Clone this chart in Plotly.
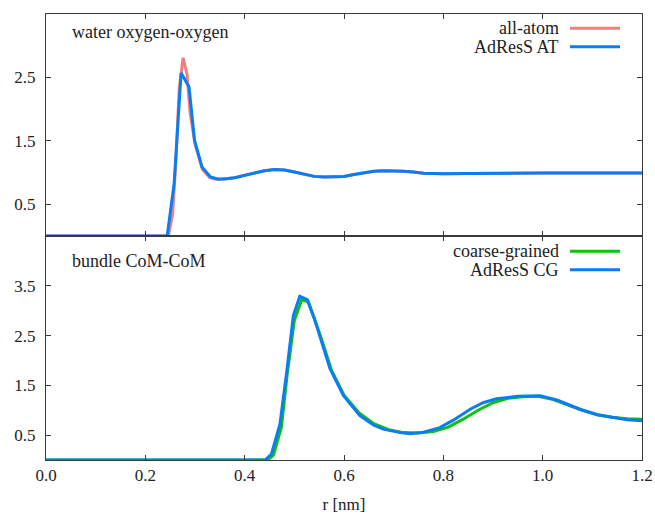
import plotly.graph_objects as go
from plotly.subplots import make_subplots

# ---- data: water oxygen-oxygen RDF ----
r_aa = [0.0, 0.240, 0.247, 0.255, 0.262, 0.268, 0.276, 0.284, 0.290, 0.300, 0.315, 0.330, 0.345,
        0.36, 0.38, 0.40, 0.42, 0.44, 0.46, 0.48, 0.50, 0.52, 0.54, 0.56, 0.58, 0.60, 0.62,
        0.64, 0.66, 0.68, 0.70, 0.72, 0.74, 0.76, 0.78, 0.80, 0.85, 0.90, 0.95, 1.0, 1.1, 1.2]
g_aa = [0.0, 0.0, 0.02, 0.35, 1.25, 2.30, 2.81, 2.55, 1.95, 1.45, 1.05, 0.92, 0.89,
        0.90, 0.92, 0.96, 1.00, 1.03, 1.05, 1.04, 1.01, 0.97, 0.94, 0.93, 0.93, 0.94, 0.97,
        1.00, 1.02, 1.03, 1.03, 1.02, 1.01, 0.99, 0.985, 0.98, 0.985, 0.99, 0.995, 0.995, 0.995, 0.995]

r_at = [0.0, 0.244, 0.258, 0.272, 0.288, 0.299, 0.314, 0.331, 0.346,
        0.36, 0.38, 0.40, 0.42, 0.44, 0.46, 0.48, 0.50, 0.52, 0.54, 0.56, 0.58, 0.60, 0.62,
        0.64, 0.66, 0.68, 0.70, 0.72, 0.74, 0.76, 0.78, 0.80, 0.85, 0.90, 0.95, 1.0, 1.1, 1.2]
g_at = [0.0, 0.0, 0.83, 2.57, 2.35, 1.51, 1.09, 0.93, 0.90,
        0.90, 0.92, 0.96, 1.00, 1.03, 1.05, 1.04, 1.01, 0.97, 0.94, 0.93, 0.93, 0.94, 0.97,
        1.00, 1.02, 1.03, 1.03, 1.02, 1.01, 0.99, 0.985, 0.98, 0.985, 0.99, 0.995, 0.995, 0.995, 0.995]

# ---- data: bundle CoM-CoM RDF ----
r_cg = [0.0, 0.446, 0.458, 0.474, 0.486, 0.500, 0.515, 0.528, 0.540, 0.555, 0.575, 0.600, 0.63,
        0.66, 0.69, 0.72, 0.75, 0.78, 0.81, 0.84, 0.87, 0.90, 0.93, 0.96, 0.99, 1.02, 1.05,
        1.08, 1.11, 1.14, 1.17, 1.2]
g_cg = [0.0, 0.0, 0.10, 0.66, 1.75, 2.80, 3.22, 3.18, 2.85, 2.42, 1.80, 1.30, 0.95,
        0.73, 0.61, 0.55, 0.54, 0.57, 0.66, 0.82, 1.00, 1.15, 1.24, 1.27, 1.28, 1.22, 1.11,
        1.00, 0.91, 0.86, 0.83, 0.82]

r_acg = [0.0, 0.441, 0.454, 0.471, 0.485, 0.498, 0.511, 0.526, 0.540, 0.552, 0.572, 0.599, 0.632,
         0.66, 0.679, 0.713, 0.733, 0.76, 0.793, 0.82, 0.854, 0.88, 0.907, 0.95, 0.995, 1.03, 1.075,
         1.11, 1.142, 1.17, 1.2]
g_acg = [0.0, 0.0, 0.12, 0.72, 1.80, 2.90, 3.29, 3.22, 2.85, 2.47, 1.83, 1.29, 0.89,
         0.70, 0.62, 0.55, 0.53, 0.56, 0.65, 0.80, 1.02, 1.15, 1.23, 1.28, 1.29, 1.20, 1.02,
         0.91, 0.855, 0.81, 0.79]

labels = ["all-atom", "AdResS AT", "coarse-grained", "AdResS CG"]
colors = ["#f07f7f", "#0a7df5", "#10c010", "#0a7df5"]
xticks = [0.0, 0.2, 0.4, 0.6, 0.8, 1.0, 1.2]
xticktext = ["0.0", "0.2", "0.4", "0.6", "0.8", "1.0", "1.2"]
yticks_top = [0.5, 1.5, 2.5]
yticks_bot = [0.5, 1.5, 2.5, 3.5]

FONT = "Liberation Serif, Times New Roman, serif"
AX = "#3a3a3a"
FS = 17
FA = 18

fig = make_subplots(rows=2, cols=1, shared_xaxes=False, vertical_spacing=0,
                    row_heights=[222, 224])

fig.add_trace(go.Scatter(x=r_aa, y=g_aa, mode="lines", name=labels[0],
                         line=dict(color=colors[0], width=3)), row=1, col=1)
fig.add_trace(go.Scatter(x=r_at, y=g_at, mode="lines", name=labels[1],
                         line=dict(color=colors[1], width=3)), row=1, col=1)
fig.add_trace(go.Scatter(x=r_cg, y=g_cg, mode="lines", name=labels[2],
                         line=dict(color=colors[2], width=3)), row=2, col=1)
fig.add_trace(go.Scatter(x=r_acg, y=g_acg, mode="lines", name=labels[3],
                         line=dict(color=colors[3], width=3)), row=2, col=1)

axcommon = dict(showline=True, linecolor=AX, linewidth=1, mirror="ticks",
                ticks="inside", ticklen=5, tickcolor=AX, showgrid=False, zeroline=False,
                automargin=False,
                tickfont=dict(family=FONT, size=FS, color="#222"))

fig.update_xaxes(range=[0, 1.2], tickvals=xticks, ticktext=xticktext, **axcommon)
fig.update_xaxes(showticklabels=False, row=1, col=1)
fig.update_xaxes(title=dict(text="r [nm]", font=dict(family=FONT, size=FS, color="#222"),
                            standoff=14), row=2, col=1)
fig.update_yaxes(range=[0, 3.5], tickvals=yticks_top, row=1, col=1, ticklabelstandoff=6, **axcommon)
fig.update_yaxes(range=[0, 4.5], tickvals=yticks_bot, row=2, col=1, ticklabelstandoff=6, **axcommon)

# panel titles
fig.add_annotation(xref="paper", yref="paper", x=(70 - 46) / 596, y=(446 - (32 - 14)) / 446,
                   text="water oxygen-oxygen", showarrow=False, xanchor="left", yanchor="middle",
                   font=dict(family=FONT, size=FA, color="#222"))
fig.add_annotation(xref="paper", yref="paper", x=(70 - 46) / 596, y=(446 - (260.7 - 14)) / 446,
                   text="bundle CoM-CoM", showarrow=False, xanchor="left", yanchor="middle",
                   font=dict(family=FONT, size=FA, color="#222"))

# custom legends (text left of line sample)
leg_y = [28.3, 46.7, 251.3, 269.7]
for lab, col, py in zip(labels, colors, leg_y):
    yp = (446 - (py - 14)) / 446
    fig.add_annotation(xref="paper", yref="paper", x=(561 - 46) / 596, y=yp, text=lab,
                       showarrow=False, xanchor="right", yanchor="middle",
                       font=dict(family=FONT, size=FA, color="#222"))
    fig.add_shape(type="line", xref="paper", yref="paper",
                  x0=(570 - 46) / 596, x1=(620 - 46) / 596, y0=yp, y1=yp,
                  line=dict(color=col, width=3))

fig.update_layout(width=655, height=514, margin=dict(l=46, r=13, t=14, b=54),
                  plot_bgcolor="white", paper_bgcolor="white", showlegend=False,
                  font=dict(family=FONT, size=FS, color="#222"))

fig.write_html("out.html")
